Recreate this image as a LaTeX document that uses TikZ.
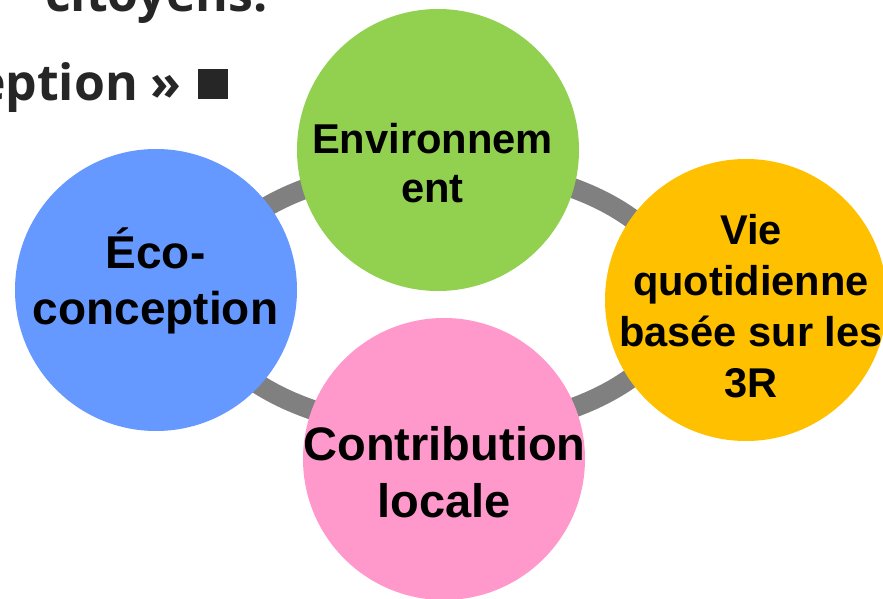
\documentclass[tikz,border=0pt]{standalone}
\usepackage{fontspec}
\setmainfont{Liberation Sans}
\newfontfamily\titrefont{Open Sans}
\usetikzlibrary{positioning}
\definecolor{bleu}{HTML}{6699FF}
\definecolor{vert}{HTML}{92D050}
\definecolor{jaune}{HTML}{FFC000}
\definecolor{rose}{HTML}{FF99CC}
\definecolor{gris}{HTML}{808080}
\definecolor{sombre}{HTML}{262626}

\begin{document}
\begin{tikzpicture}[x=1pt,y=-1pt,
    bulle/.style={circle,minimum size=282pt,inner sep=0pt},
    etiq/.style={align=center,anchor=base,inner sep=0pt,text=black},
    titre/.style={font=\titrefont\bfseries\fontsize{50}{60}\selectfont,text=sombre,inner sep=0pt,anchor=base east}]
    \useasboundingbox (0,0) rectangle (883,599);
    \clip (0,0) rectangle (883,599);
    \node[titre] (ligne1) at (268,12) {citoyens.};
    \node[titre] (ligne2) at (182,101) {eption »};
    \node[fill=sombre,minimum size=30pt,inner sep=0pt] (carre) at (212.5,84) {};
    \draw[gris,line width=20pt] (440,298) ellipse [x radius=240,y radius=132];
    \node[bulle,fill=bleu] (eco) at (156,290) {};
    \node[bulle,fill=vert] (env) at (438,150) {};
    \node[bulle,fill=jaune] (vie) at (746,300) {};
    \node[bulle,fill=rose] (contrib) at (444,459) {};
    \node[etiq,font=\bfseries\fontsize{46}{56}\selectfont] (eco-t) at (155.5,324) {Éco-\\conception};
    \node[etiq,font=\bfseries\fontsize{41.7}{49}\selectfont] (env-t) at (432.5,202) {Environnem\\ent};
    \node[etiq,font=\bfseries\fontsize{41.6}{51}\selectfont] (vie-t) at (751,397) {Vie\\quotidienne\\basée sur les\\3R};
    \node[etiq,font=\bfseries\fontsize{47}{57}\selectfont] (contrib-t) at (444.5,517) {Contribution\\locale};
\end{tikzpicture}
\end{document}
